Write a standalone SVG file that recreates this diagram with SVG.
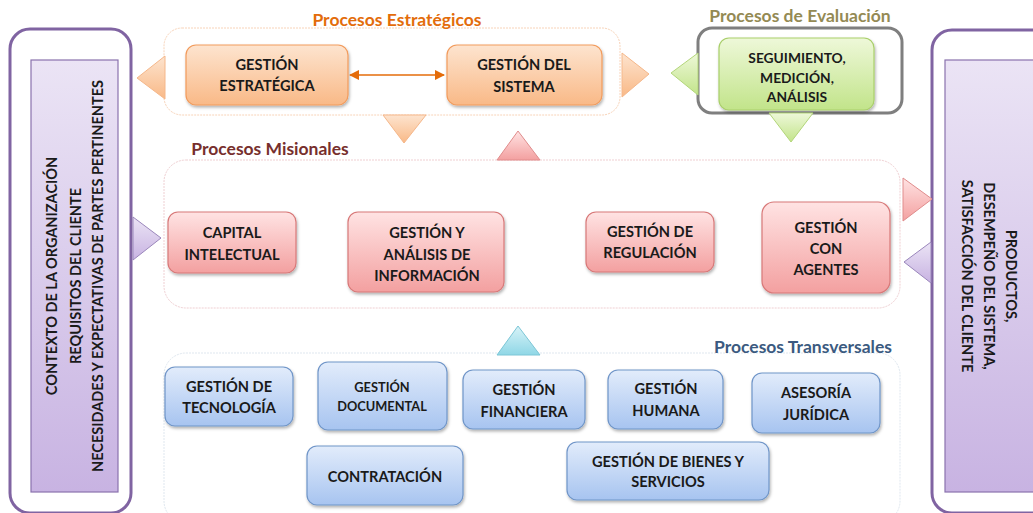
<svg xmlns="http://www.w3.org/2000/svg" width="1033" height="513" viewBox="0 0 1033 513">
<defs>
<linearGradient id="gOr" x1="0" y1="0" x2="0" y2="1"><stop offset="0" stop-color="#fde4cf"/><stop offset="1" stop-color="#f9b987"/></linearGradient>
<linearGradient id="gPk" x1="0" y1="0" x2="0" y2="1"><stop offset="0" stop-color="#ffe3e3"/><stop offset="1" stop-color="#f3a0a0"/></linearGradient>
<linearGradient id="gGr" x1="0" y1="0" x2="0" y2="1"><stop offset="0" stop-color="#eef8d9"/><stop offset="1" stop-color="#c2e48a"/></linearGradient>
<linearGradient id="gBl" x1="0" y1="0" x2="0" y2="1"><stop offset="0" stop-color="#e2ecfb"/><stop offset="1" stop-color="#a7c4f0"/></linearGradient>
<linearGradient id="gPu" x1="0" y1="0" x2="0" y2="1"><stop offset="0" stop-color="#ebe4f5"/><stop offset="1" stop-color="#c8b3e2"/></linearGradient>
<linearGradient id="gCy" x1="0" y1="0" x2="0" y2="1"><stop offset="0" stop-color="#d8f3f8"/><stop offset="1" stop-color="#8fd7e6"/></linearGradient>
<filter id="sh" x="-10%" y="-10%" width="125%" height="130%"><feDropShadow dx="1" dy="2" stdDeviation="1.5" flood-color="#000" flood-opacity="0.3"/></filter>
<marker id="ah" viewBox="0 0 10 10" refX="9" refY="5" markerWidth="7" markerHeight="7" orient="auto-start-reverse"><path d="M0,0 L10,5 L0,10 z" fill="#e46c0a"/></marker>
</defs>
<style>
text{font-family:Lato,"Open Sans","Liberation Sans",sans-serif;font-weight:bold;}
.bt{font-size:14.6px;fill:#1a1a1a;text-anchor:middle;}
.sm{font-size:12.8px;fill:#1a1a1a;text-anchor:middle;}
.gt{font-size:13.8px;fill:#1a1a1a;text-anchor:middle;}
.vt{font-size:14.5px;fill:#1a1a1a;text-anchor:middle;}
.hd{font-size:17.5px;text-anchor:middle;}
.or{fill:url(#gOr);stroke:#f29b5c;stroke-width:1.2;filter:url(#sh);}
.pk{fill:url(#gPk);stroke:#d87878;stroke-width:1.2;filter:url(#sh);}
.gr{fill:url(#gGr);stroke:#a9cf6a;stroke-width:1.2;filter:url(#sh);}
.bl{fill:url(#gBl);stroke:#6f95c8;stroke-width:1.2;filter:url(#sh);}
.pu{fill:url(#gPu);stroke:#8a72ad;stroke-width:1.2;}
.cont{fill:#fff;stroke-width:1;}
</style>
<rect width="1033" height="513" fill="#fff"/>

<!-- containers -->
<g id="cont-estrategicos">
<rect class="cont" x="164" y="28" width="456" height="87" rx="18" stroke="#f8d3b8" stroke-dasharray="2 1"/>
<text class="hd" x="397" y="26" fill="#e36c0a">Procesos Estratégicos</text>
</g>
<g id="cont-evaluacion">
<text class="hd" x="800" y="22" fill="#948a54">Procesos de Evaluación</text>
<rect x="698" y="28" width="204" height="85" rx="14" fill="#fff" stroke="#7f7f7f" stroke-width="3"/>
</g>
<g id="cont-misionales">
<rect class="cont" x="164" y="160" width="736" height="148" rx="22" stroke="#efcfd2" stroke-dasharray="2 1"/>
<text class="hd" x="270" y="155" fill="#772f2d">Procesos Misionales</text>
</g>
<g id="cont-transversales">
<rect class="cont" x="164" y="353" width="736" height="170" rx="22" stroke="#dfe7ef" stroke-dasharray="2 1"/>
<text class="hd" x="803" y="353" fill="#3b5a80">Procesos Transversales</text>
</g>

<!-- side panels -->
<g id="entradas">
<rect x="10" y="29" width="121" height="484" rx="20" fill="#fff" stroke="#8064a2" stroke-width="3"/>
<rect class="pu" x="31" y="60" width="87" height="432"/>
<text class="vt" transform="translate(57,276) rotate(-90)">CONTEXTO DE LA ORGANIZACIÓN</text>
<text class="vt" transform="translate(81,276) rotate(-90)">REQUISITOS DEL CLIENTE</text>
<text class="vt" transform="translate(103,276) rotate(-90)">NECESIDADES Y EXPECTATIVAS DE PARTES PERTINENTES</text>
</g>
<g id="salidas">
<rect x="932" y="30" width="120" height="483" rx="20" fill="#fff" stroke="#8064a2" stroke-width="3"/>
<rect class="pu" x="945" y="60" width="100" height="432"/>
<text class="vt" transform="translate(1006,276) rotate(90)">PRODUCTOS,</text>
<text class="vt" transform="translate(984,276) rotate(90)">DESEMPEÑO DEL SISTEMA,</text>
<text class="vt" transform="translate(962,276) rotate(90)">SATISFACCIÓN DEL CLIENTE</text>
</g>

<!-- nodes -->
<g id="gestion-estrategica">
<rect class="or" x="186" y="45" width="162" height="60" rx="10"/>
<text class="bt" x="267" y="70">GESTIÓN</text><text class="bt" x="267" y="91">ESTRATÉGICA</text>
</g>
<g id="gestion-sistema">
<rect class="or" x="447" y="45" width="155" height="60" rx="10"/>
<text class="bt" x="524" y="70">GESTIÓN DEL</text><text class="bt" x="524" y="92">SISTEMA</text>
</g>
<g id="seguimiento">
<rect class="gr" x="719" y="38" width="155" height="72" rx="10"/>
<text class="gt" x="797" y="63">SEGUIMIENTO,</text><text class="gt" x="797" y="83">MEDICIÓN,</text><text class="gt" x="797" y="102">ANÁLISIS</text>
</g>
<g id="capital-intelectual">
<rect class="pk" x="168" y="212" width="128" height="61" rx="10"/>
<text class="bt" x="232" y="238">CAPITAL</text><text class="bt" x="232" y="260">INTELECTUAL</text>
</g>
<g id="gestion-analisis">
<rect class="pk" x="348" y="212" width="156" height="80" rx="10"/>
<text class="bt" x="427" y="238">GESTIÓN Y</text><text class="bt" x="427" y="260">ANÁLISIS DE</text><text class="bt" x="427" y="281">INFORMACIÓN</text>
</g>
<g id="gestion-regulacion">
<rect class="pk" x="586" y="212" width="128" height="60" rx="10"/>
<text class="bt" x="650" y="237">GESTIÓN DE</text><text class="bt" x="650" y="258">REGULACIÓN</text>
</g>
<g id="gestion-agentes">
<rect class="pk" x="762" y="202" width="128" height="91" rx="12"/>
<text class="bt" x="826" y="233">GESTIÓN</text><text class="bt" x="826" y="254">CON</text><text class="bt" x="826" y="275">AGENTES</text>
</g>
<g id="gestion-tecnologia">
<rect class="bl" x="165" y="367" width="128" height="59" rx="10"/>
<text class="bt" x="229" y="392">GESTIÓN DE</text><text class="bt" x="229" y="413">TECNOLOGÍA</text>
</g>
<g id="gestion-documental">
<rect class="bl" x="318" y="362" width="129" height="68" rx="10"/>
<text class="sm" x="382" y="392">GESTIÓN</text><text class="sm" x="382" y="411">DOCUMENTAL</text>
</g>
<g id="gestion-financiera">
<rect class="bl" x="463" y="370" width="122" height="59" rx="10"/>
<text class="bt" x="524" y="395">GESTIÓN</text><text class="bt" x="524" y="417">FINANCIERA</text>
</g>
<g id="gestion-humana">
<rect class="bl" x="608" y="370" width="115" height="59" rx="10"/>
<text class="bt" x="666" y="394">GESTIÓN</text><text class="bt" x="666" y="416">HUMANA</text>
</g>
<g id="asesoria-juridica">
<rect class="bl" x="752" y="373" width="128" height="60" rx="10"/>
<text class="bt" x="816" y="398">ASESORÍA</text><text class="bt" x="816" y="420">JURÍDICA</text>
</g>
<g id="contratacion">
<rect class="bl" x="307" y="446" width="156" height="59" rx="10"/>
<text class="bt" x="385" y="482">CONTRATACIÓN</text>
</g>
<g id="bienes-servicios">
<rect class="bl" x="567" y="442" width="202" height="58" rx="10"/>
<text class="bt" x="668" y="467">GESTIÓN DE BIENES Y</text><text class="bt" x="668" y="487">SERVICIOS</text>
</g>

<!-- connectors -->
<g id="connectors">
<line x1="350" y1="75" x2="444" y2="75" stroke="#e46c0a" stroke-width="1.5" marker-start="url(#ah)" marker-end="url(#ah)"/>
<polygon points="165,56 165,99 137,78" fill="url(#gOr)" stroke="#f5b78a" stroke-width="1"/>
<polygon points="622,53 622,97 649,74" fill="url(#gOr)" stroke="#f5b78a" stroke-width="1"/>
<polygon points="383,115 426,115 404,143" fill="url(#gOr)" stroke="#f5b78a" stroke-width="1"/>
<polygon points="497,160 540,160 518,131" fill="url(#gPk)" stroke="#e08c8c" stroke-width="1"/>
<polygon points="698,53 698,95 671,73" fill="url(#gGr)" stroke="#b3d67a" stroke-width="1"/>
<polygon points="769,113 813,113 791,142" fill="url(#gGr)" stroke="#b3d67a" stroke-width="1"/>
<polygon points="133,217 133,260 161,238" fill="url(#gPu)" stroke="#9a86bb" stroke-width="1"/>
<polygon points="903,178 903,221 932,199" fill="url(#gPk)" stroke="#e08c8c" stroke-width="1"/>
<polygon points="931,242 931,283 904,262" fill="url(#gPu)" stroke="#9a86bb" stroke-width="1"/>
<polygon points="497,355 540,355 518,326" fill="url(#gCy)" stroke="#7cc6d6" stroke-width="1"/>
</g>
</svg>
